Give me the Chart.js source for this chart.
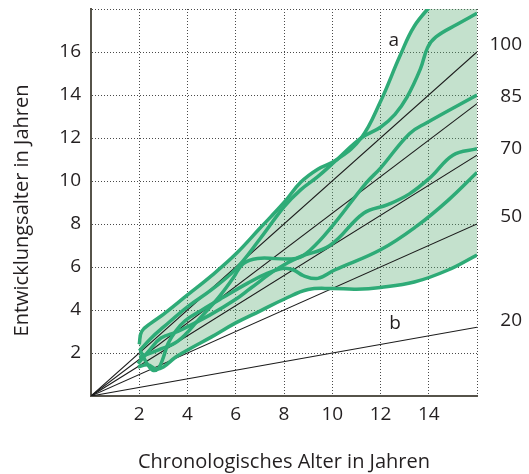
<!DOCTYPE html>
<html>
<head>
<meta charset="utf-8">
<script src="https://cdn.jsdelivr.net/npm/chart.js@4"></script>
<style>
  html, body { margin: 0; padding: 0; background: #fff; }
  #wrap { width: 529px; height: 474px; }
</style>
</head>
<body>
<div id="wrap"><canvas id="chart" width="529" height="474"></canvas></div>
<script>
// --- Axis ranges / ticks ---
const X_MAX = 16;
const Y_MAX = 18;
const xTickLabels = [2, 4, 6, 8, 10, 12, 14];
const yTickLabels = [2, 4, 6, 8, 10, 12, 14, 16];
const xTitle = "Chronologisches Alter in Jahren";
const yTitle = "Entwicklungsalter in Jahren";

// --- Reference lines (IQ), end value at x = 16 ---
const iqLabels = ["100", "85", "70", "50", "20"];
const iqLineEnd = [16, 13.6, 11.2, 8.0, 3.2];

// --- Green curves [chronological age, developmental age] ---
const curveA = [[2.0,2.4],[2.1,3.0],[2.5,3.4],[3.0,3.8],[4.0,4.7],[5.0,5.6],[6.0,6.6],[7.0,7.8],[8.0,9.0],[8.7,9.95],[9.4,10.55],[10.2,11.0],[11.2,12.0],[12.0,13.7],[12.8,15.8],[13.4,17.2],[14.2,18.3]];
const curveB = [[2.0,2.1],[2.5,2.7],[3.0,3.2],[4.0,4.15],[5.0,4.95],[6.0,5.9],[7.0,7.3],[8.0,8.8],[8.7,9.6],[9.4,10.2],[10.2,11.0],[11.2,12.0],[12.0,12.5],[12.6,13.1],[13.1,13.9],[13.65,15.2],[13.95,16.2],[14.3,16.7],[15.2,17.3],[16,17.8]];
const curveC = [[2.0,1.8],[2.8,2.15],[3.6,2.55],[4.5,3.6],[5.3,4.6],[5.9,5.5],[6.3,6.15],[6.9,6.4],[8.5,6.4],[9.1,6.8],[10.0,7.9],[11.4,9.9],[12.0,10.6],[13.2,12.2],[13.9,12.7],[16,14.0]];
const curveD = [[1.95,1.5],[2.4,2.1],[2.9,2.7],[3.6,3.0],[4.9,3.75],[6.0,4.5],[6.6,5.0],[7.7,5.9],[8.6,6.45],[9.9,7.0],[11.3,8.5],[12.3,8.9],[13.2,9.4],[14.1,10.2],[15.0,11.2],[16,11.5]];
const curveE = [[2.05,2.1],[2.3,1.55],[2.55,1.2],[2.8,1.3],[3.0,1.8],[3.2,2.45],[3.5,3.0],[3.9,3.5],[4.6,4.0],[5.5,4.6],[6.5,5.25],[7.3,5.7],[8.0,5.94],[8.4,5.86],[8.8,5.6],[9.4,5.47],[10.1,5.86],[12.0,6.8],[13.5,7.9],[14.8,9.1],[16,10.4]];
const curveF = [[1.95,1.35],[2.35,1.45],[2.7,1.25],[3.0,1.35],[3.5,1.8],[4.1,2.2],[5.0,2.75],[6.0,3.4],[7.0,3.95],[8.0,4.5],[9.0,4.95],[10.0,5.0],[11.0,4.97],[12.0,5.05],[13.4,5.3],[14.8,5.86],[16,6.56]];

// --- Styles ---
const GREEN = "#2eab77";
const FILL = "rgba(86,169,112,0.35)";
const TEXT = "#231f20";
const FONT = "'Open Sans', sans-serif";

const pts = arr => arr.map(p => ({ x: p[0], y: p[1] }));

function greenLine(data) {
  return {
    data: pts(data),
    showLine: true,
    borderColor: GREEN,
    borderWidth: 3.5,
    pointRadius: 0,
    tension: 0.4,
    fill: false,
    clip: 0,
    order: 0
  };
}

// fill band: upper edge = curve A, then along the top of the plot
const bandTop = pts(curveA).concat([{ x: X_MAX, y: curveA[curveA.length - 1][1] }]);

const datasets = [];
datasets.push(greenLine(curveF)); // index 0 = lower envelope
datasets.push({
  data: bandTop,
  showLine: true,
  borderWidth: 0,
  borderColor: "rgba(0,0,0,0)",
  backgroundColor: FILL,
  pointRadius: 0,
  tension: 0.4,
  fill: { target: 0 },
  clip: 0,
  order: 10
});
iqLineEnd.forEach(v => {
  datasets.push({
    data: [{ x: 0, y: 0 }, { x: X_MAX, y: v }],
    showLine: true,
    borderColor: "#1c1c1c",
    borderWidth: 1.1,
    pointRadius: 0,
    fill: false,
    order: 5
  });
});
[curveA, curveB, curveC, curveD, curveE].forEach(c => datasets.push(greenLine(c)));

// --- Labels: IQ values at the right, "a" and "b", y title ---
const labelPlugin = {
  id: "labels",
  afterDraw(chart) {
    const { ctx, chartArea, scales: { x, y } } = chart;
    ctx.save();
    ctx.fillStyle = TEXT;
    ctx.font = "19px " + FONT;
    ctx.textAlign = "right";
    ctx.textBaseline = "middle";
    iqLineEnd.forEach((v, i) => {
      ctx.fillText(iqLabels[i], 522, y.getPixelForValue(v) - 7);
    });
    ctx.textAlign = "center";
    ctx.fillText("a", x.getPixelForValue(12.55), y.getPixelForValue(16.55));
    ctx.fillText("b", x.getPixelForValue(12.6), y.getPixelForValue(3.35));

    // y axis title
    ctx.font = "20px " + FONT;
    ctx.translate(22, (chartArea.top + chartArea.bottom) / 2 + 8);
    ctx.rotate(-Math.PI / 2);
    ctx.fillText(yTitle, 0, 0);
    ctx.restore();
  }
};

const gridStyle = {
  color: ctx => (ctx.tick && ctx.tick.value === 0 ? "rgba(0,0,0,0)" : "#4a4a4a"),
  lineWidth: 1,
  drawTicks: false
};

new Chart(document.getElementById("chart"), {
  type: "scatter",
  data: { datasets },
  options: {
    responsive: false,
    animation: false,
    layout: { padding: { left: 0, right: 52, top: 9, bottom: 0 } },
    plugins: {
      legend: { display: false },
      tooltip: { enabled: false }
    },
    scales: {
      x: {
        type: "linear",
        min: 0,
        max: X_MAX,
        afterFit: s => { s.height = 78; s.paddingLeft = 0; s.paddingRight = 0; },
        grid: gridStyle,
        border: { display: true, color: "#56534a", width: 2, dash: [1, 2] },
        ticks: {
          stepSize: 2,
          padding: 7,
          color: TEXT,
          font: { family: FONT, size: 19 },
          callback: v => (xTickLabels.includes(v) ? String(v) : "")
        },
        title: {
          display: true,
          text: xTitle,
          color: TEXT,
          font: { family: FONT, size: 20 },
          padding: { bottom: 0 }
        }
      },
      y: {
        type: "linear",
        min: 0,
        max: Y_MAX,
        afterFit: s => { s.width = 91; s.paddingTop = 0; s.paddingBottom = 0; },
        grid: gridStyle,
        border: { display: true, color: "#56534a", width: 2, dash: [1, 2] },
        ticks: {
          stepSize: 2,
          padding: 10,
          color: TEXT,
          font: { family: FONT, size: 19 },
          callback: v => (yTickLabels.includes(v) ? String(v) : "")
        },
        title: { display: false }
      }
    }
  },
  plugins: [labelPlugin]
});
</script>
</body>
</html>
